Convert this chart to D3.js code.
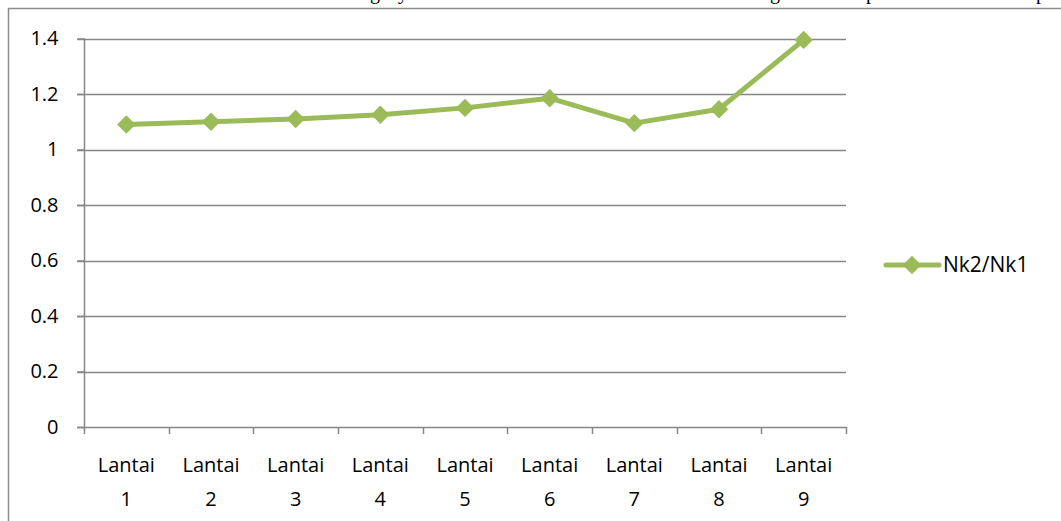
<!DOCTYPE html>
<html><head><meta charset="utf-8">
<script src="https://cdn.jsdelivr.net/npm/d3@7"></script>
<style>body{margin:0;background:#fff}svg{display:block}</style>
</head><body>
<script>
const categories = ["Lantai 1","Lantai 2","Lantai 3","Lantai 4","Lantai 5","Lantai 6","Lantai 7","Lantai 8","Lantai 9"];
const values = [1.09, 1.10, 1.11, 1.125, 1.15, 1.185, 1.095, 1.145, 1.395];
const yTicks = [0, 0.2, 0.4, 0.6, 0.8, 1, 1.2, 1.4];
const seriesName = "Nk2/Nk1";

const W = 1061, H = 521;
const svg = d3.select("body").append("svg").attr("width", W).attr("height", H);
const font = "'Open Sans', 'Liberation Sans', sans-serif";
const fs = 20;

// cropped text from the page above
const topChars = [["g",370],["y",398],["g",770],["p",866],["p",1036]];
svg.selectAll("text.crop").data(topChars).join("text")
  .attr("x", d => d[1]).attr("y", -1).attr("font-family", "'Liberation Serif', serif")
  .attr("font-size", 20).attr("fill", "#000").text(d => d[0]);

// chart frame
svg.append("path").attr("d", `M8.5,${H+2} L8.5,8.5 L${W+2},8.5`)
  .attr("fill", "none").attr("stroke", "#8c8c8c").attr("stroke-width", 1.5);

const x = d3.scaleBand().domain(categories).range([84, 846]);
const y = d3.scaleLinear().domain([0, 1.4]).range([427, 38.5]);

// gridlines
svg.append("g").selectAll("line").data(yTicks.filter(d => d > 0)).join("line")
  .attr("x1", 77).attr("x2", 846).attr("y1", d => Math.round(y(d)) + 0.5).attr("y2", d => Math.round(y(d)) + 0.5)
  .attr("stroke", "#868686").attr("stroke-width", 1.5);

// y axis
const yAxis = svg.append("g").attr("transform", "translate(84.5,0)")
  .call(d3.axisLeft(y).tickValues(yTicks).tickSize(7).tickPadding(19).tickFormat(d => d3.format("")(+d.toFixed(1))));
yAxis.select(".domain").attr("stroke", "#868686").attr("stroke-width", 1.5).attr("d", `M0,${y(1.4)}V${y(0)}`);
yAxis.selectAll(".tick line").attr("stroke", "#868686").attr("stroke-width", 1.5);
yAxis.selectAll(".tick text").attr("font-family", font).attr("font-size", fs).attr("fill", "#000");

// x axis
const xAxis = svg.append("g").attr("transform", `translate(0,${Math.round(y(0)) + 0.5})`)
  .call(d3.axisBottom(x).tickSize(0).tickFormat(""));
xAxis.select(".domain").attr("stroke", "#868686").attr("stroke-width", 1.5).attr("d", `M77,0H846`);
const xt = [...categories.map(c => x(c)), x.range()[1]];
svg.append("g").selectAll("line").data(xt).join("line")
  .attr("x1", d => Math.round(d) + 0.5).attr("x2", d => Math.round(d) + 0.5)
  .attr("y1", y(0)).attr("y2", y(0) + 7).attr("stroke", "#868686").attr("stroke-width", 1.5);
const lab = svg.append("g").selectAll("text").data(categories).join("text")
  .attr("font-family", font).attr("font-size", fs).attr("fill", "#000").attr("text-anchor", "middle");
lab.append("tspan").attr("x", d => x(d) + x.bandwidth() / 2).attr("y", 472).text(d => d.split(" ")[0]);
lab.append("tspan").attr("x", d => x(d) + x.bandwidth() / 2).attr("y", 506).text(d => d.split(" ")[1]);

// series
const color = "#9bbb59";
const pts = categories.map((c, i) => [x(c) + x.bandwidth() / 2, y(values[i])]);
svg.append("path").attr("d", d3.line()(pts)).attr("fill", "none").attr("stroke", color)
  .attr("stroke-width", 5).attr("stroke-linejoin", "round");
const diamond = d3.symbol().type(d3.symbolSquare).size(170);
svg.append("g").selectAll("path").data(pts).join("path")
  .attr("d", diamond()).attr("transform", d => `translate(${d[0]},${d[1]}) rotate(45)`).attr("fill", color);

// legend
svg.append("line").attr("x1", 886).attr("x2", 939).attr("y1", 265).attr("y2", 265)
  .attr("stroke", color).attr("stroke-width", 5).attr("stroke-linecap", "round");
svg.append("path").attr("d", diamond()).attr("transform", "translate(912,265) rotate(45)").attr("fill", color);
svg.append("text").attr("x", 943).attr("y", 272).attr("font-family", font).attr("font-size", 21)
  .attr("fill", "#000").text(seriesName);
</script>
</body></html>
